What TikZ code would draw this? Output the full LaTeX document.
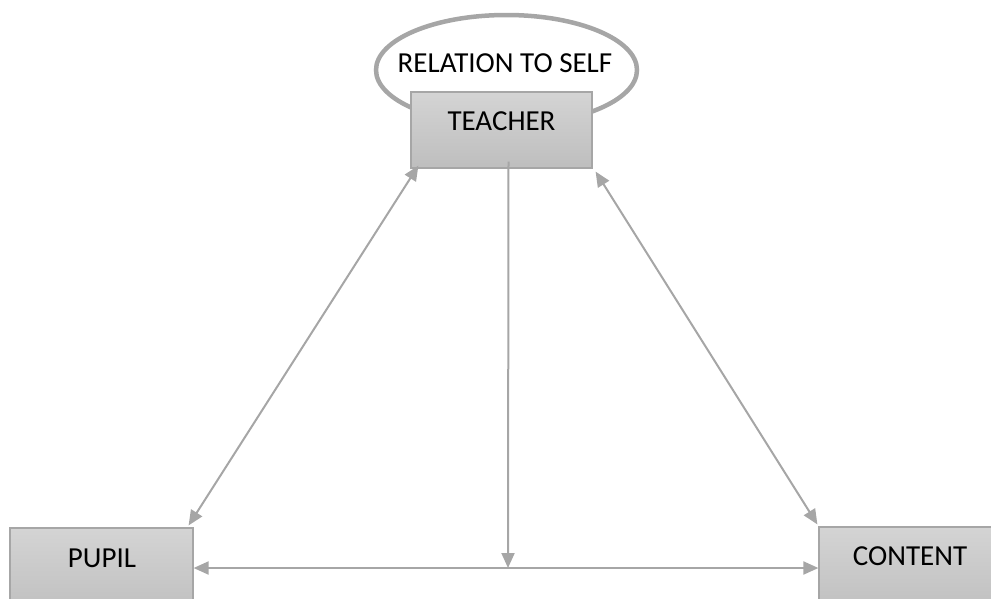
\documentclass[tikz,border=0pt]{standalone}
\usepackage{fontspec}
\setmainfont{Carlito}
\usetikzlibrary{arrows.meta,shapes.geometric}
\definecolor{lin}{HTML}{A6A6A6}
\definecolor{boxtop}{HTML}{D4D4D4}
\definecolor{boxbot}{HTML}{BEBEBE}
\begin{document}
\begin{tikzpicture}[x=1pt,y=-1pt,
  box/.style={draw=lin,line width=1.2pt,top color=boxtop,bottom color=boxbot,inner sep=0pt},
  lbl/.style={font=\fontsize{29}{34}\selectfont,anchor=base},
  tip/.style={Triangle[length=15pt,width=13pt]},
  conn/.style={draw=lin,line width=2pt,{Triangle[length=15pt,width=13pt]}-{Triangle[length=15pt,width=13pt]}},
  oneway/.style={draw=lin,line width=2pt,-{Triangle[length=15pt,width=13pt]}}]
\useasboundingbox (0,0) rectangle (991,598);
\node[draw=lin,line width=4.5pt,ellipse,minimum width=261pt,minimum height=110pt,inner sep=0pt] (self) at (506.5,70) {};
\node[lbl] (selftext) at (505,72) {RELATION TO SELF};
\node[box,minimum width=181pt,minimum height=76pt] (teacher) at (501.5,130) {};
\node[lbl] (teachertext) at (501.5,130) {TEACHER};
\node[box,minimum width=183pt,minimum height=90pt] (pupil) at (101.5,573) {};
\node[lbl] (pupiltext) at (102,567) {PUPIL};
\node[box,minimum width=180pt,minimum height=90pt] (content) at (909,572) {};
\node[lbl] (contenttext) at (910,565) {CONTENT};
\coordinate (mid) at (508,568);
\draw[conn] ([shift={(8,-3)}]teacher.south west) -- ([shift={(-5,-2)}]pupil.north east);
\draw[conn] ([shift={(3,3)}]teacher.south east) -- ([shift={(-1,-2)}]content.north west);
\draw[conn] (pupil.east |- mid) -- (content.west |- mid);
\draw[oneway] ([shift={(7,-7)}]teacher.south) -- (mid);
\end{tikzpicture}
\end{document}
